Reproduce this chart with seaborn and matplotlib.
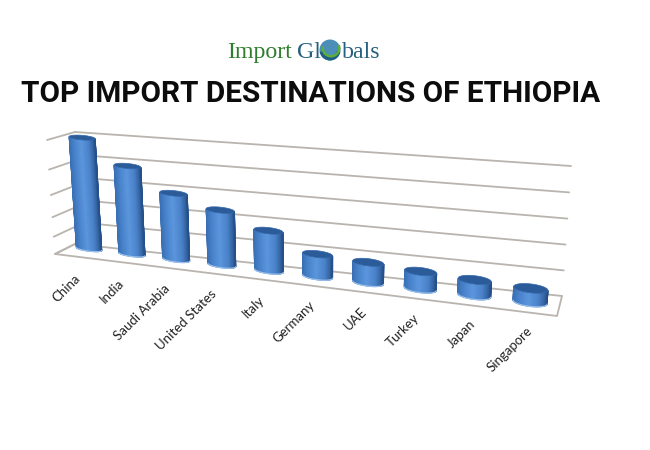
import numpy as np
import seaborn as sns
import matplotlib.pyplot as plt
import matplotlib.transforms as mtransforms
from matplotlib.colors import LinearSegmentedColormap
from matplotlib.patches import Polygon, Circle, Wedge

countries = ['China', 'India', 'Saudi Arabia', 'United States', 'Italy',
             'Germany', 'UAE', 'Turkey', 'Japan', 'Singapore']
values = [4.93, 3.87, 2.88, 2.36, 1.70, 0.94, 0.84, 0.71, 0.62, 0.54]
grid_levels = [0, 1, 2, 3, 4, 5]

W, H = 650, 450


# maps a plane of the fake 3d box (x, value or depth) to picture pixels
class Plane(mtransforms.Transform):
    input_dims = 2
    output_dims = 2

    def __init__(self, src, dst):
        super().__init__()
        rows, rhs = [], []
        for (x, y), (u, v) in zip(src, dst):
            rows.append([x, y, 1, 0, 0, 0, -u * x, -u * y])
            rows.append([0, 0, 0, x, y, 1, -v * x, -v * y])
            rhs += [u, v]
        self.m = np.append(np.linalg.solve(rows, rhs), 1).reshape(3, 3)

    def transform_non_affine(self, values):
        # pcolormesh hands over a masked array
        pts = np.asarray(np.ma.getdata(values), dtype=float)
        xy = np.column_stack([pts, np.ones(len(pts))]) @ self.m.T
        out = xy[:, :2] / xy[:, 2:]
        out[:, 1] = H - out[:, 1]
        return out


wall = Plane([(-0.5, 0), (9.5, 0), (9.5, 5), (-0.5, 5)],
             [(75, 244), (562, 296), (571, 166), (75, 132)])
side = Plane([(0, 0), (1, 0), (1, 5), (0, 5)],
             [(75, 244), (55, 254), (47, 140), (75, 132)])
floor = Plane([(-0.5, 0), (9.5, 0), (9.5, 1), (-0.5, 1)],
              [(75, 244), (562, 296), (557, 316), (55, 254)])
bars_plane = Plane([(0, 0), (9, 0), (9, 5), (0, 5)],
                   [(89, 249), (530, 302), (537, 172), (82, 136)])

sns.set_theme(style='white')
plt.rcParams['font.family'] = ['Lato', 'DejaVu Sans']

fig = plt.figure(figsize=(W / 100, H / 100), dpi=100)
bar_ax = fig.add_axes([0, 0, 1, 1])
sns.barplot(x=countries, y=values, width=0.6, ax=bar_ax)
rects = list(bar_ax.containers[0])
bar_ax.set_axis_off()

# second axes on top, the barplot one has a categorical x
ax = fig.add_axes([0, 0, 1, 1])
ax.set_axis_off()

# box
line_col = '#b9b4ae'
for lev in grid_levels:
    ax.plot([-0.5, 9.5], [lev, lev], color=line_col, lw=1.3, transform=wall, clip_on=False, zorder=1)
    ax.plot([0, 1], [lev, lev], color=line_col, lw=1.3, transform=side, clip_on=False, zorder=1)
ax.plot([-0.5, -0.5, 9.5, 9.5], [0, 1, 1, 0], color=line_col, lw=1.3, transform=floor, clip_on=False, zorder=1)

# cylinders built from the seaborn bars
shade = LinearSegmentedColormap.from_list(
    'cyl', [(0, '#3a6fb5'), (0.15, '#4680c8'), (0.45, '#5c97de'), (0.75, '#4a82c9'), (0.93, '#33629f'), (1, '#25508a')])
theta = np.radians(np.linspace(-90, 90, 37))
ring = np.radians(np.linspace(0, 360, 61))
for i, rect in enumerate(rects):
    cx = rect.get_x() + rect.get_width() / 2
    r = rect.get_width() / 2
    h = rect.get_height()
    rect.set_visible(False)
    e = 0.10 + 0.075 * i / 9
    us = cx + r * np.sin(theta)
    low = -e * np.cos(theta)
    # gouraud mesh so the shading runs smooth round the cylinder
    X = np.vstack([us, us])
    Y = np.vstack([low, low + h])
    C = np.vstack([(np.sin(theta) + 1) / 2] * 2)
    ax.pcolormesh(X, Y, C, cmap=shade, vmin=0, vmax=1, shading='gouraud',
                  transform=bars_plane, clip_on=False, zorder=3)
    ax.plot(us, low, color='#9cc0ea', lw=0.9, transform=bars_plane, clip_on=False, zorder=4)
    cap = np.column_stack([cx + r * np.sin(ring), h + e * np.cos(ring)])
    ax.add_patch(Polygon(cap, closed=True, fc='#2b5b98', ec='#3368aa', lw=0.5,
                         transform=bars_plane, clip_on=False, zorder=5))

# category labels, rotated and hanging under the front edge
for i, name in enumerate(countries):
    ax.annotate(name, xy=(i, 0), xycoords=bars_plane,
                xytext=(-11 * (1 - i / 9), -27), textcoords='offset pixels',
                rotation=45, rotation_mode='anchor', ha='right', va='center',
                fontsize=9.5, color='#222222', annotation_clip=False)

title = fig.text(21 / W, 1 - 94 / H, 'TOP IMPORT DESTINATIONS OF ETHIOPIA', family='Roboto',
                 fontsize=22, fontweight='bold', color='#0c0c0c', ha='left', va='center')
# squeeze the title into the same width as the original
tw = title.get_window_extent(fig.canvas.get_renderer()).width
title.set_fontsize(22 * 579 / tw)

# logo
logo = dict(family='Liberation Serif', fontsize=17.2, va='baseline')
fig.text(227 / W, 1 - 58 / H, 'Import', color='#2f7d2f', **logo)
fig.text(297 / W, 1 - 58 / H, 'Gl', color='#26607f', **logo)
fig.text(342 / W, 1 - 58 / H, 'bals', color='#26607f', **logo)
px = mtransforms.IdentityTransform()
gx, gy, gr = 330, H - 50, 10.5
ax.add_patch(Circle((gx, gy), gr, fc='#4b8fb8', ec='none', transform=px, clip_on=False, zorder=6))
ax.add_patch(Wedge((gx, gy), gr, 190, 350, width=4, fc='#1f5f86', ec='none', transform=px, clip_on=False, zorder=6))
ax.add_patch(Wedge((gx + 1, gy + 2), gr - 1, 170, 20, width=2.5, fc='#5fae3c', ec='none', transform=px, clip_on=False, zorder=7))

fig.savefig('out.png', dpi=100)
